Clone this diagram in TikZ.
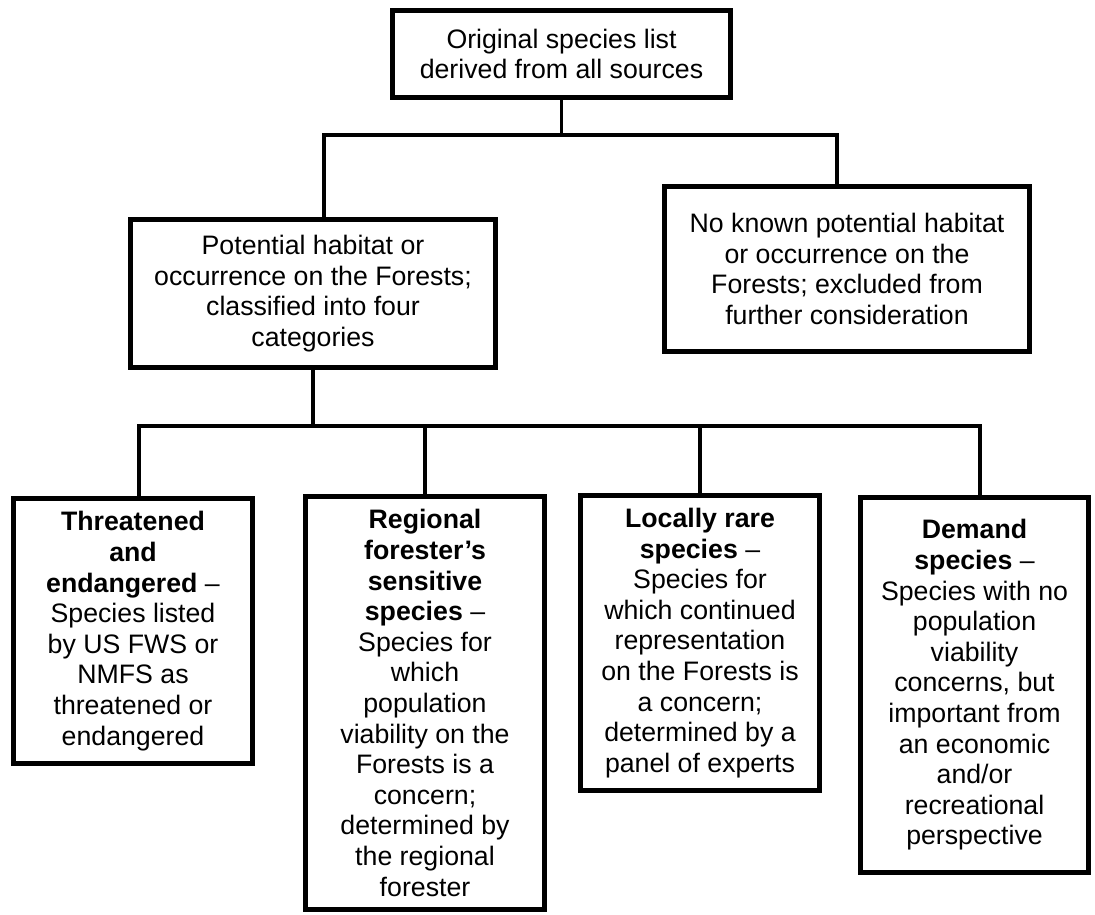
\documentclass[tikz,border=0pt]{standalone}
\usepackage{fontspec}
\setmainfont{Liberation Sans}
\usepackage{tikz}

\begin{document}
\begin{tikzpicture}[
    x=0.5pt, y=-0.5pt,
    box/.style={draw=black, line width=2.4pt, fill=white, align=center, inner sep=0pt, font=\fontsize{13.35}{15.3}\selectfont},
    conn/.style={draw=black, line width=1.8pt}
]
    \useasboundingbox (0,0) rectangle (1095,914);

    \node[box, minimum width=169.1pt, minimum height=43.6pt] (orig) at (561.5,54) {Original species list\\derived from all sources};
    \node[box, minimum width=182.6pt, minimum height=74.1pt] (habitat) at (313,293.5) {Potential habitat or\\occurrence on the Forests;\\classified into four\\categories};
    \node[box, minimum width=182.6pt, minimum height=82.6pt] (nohabitat) at (847,269) {No known potential habitat\\or occurrence on the\\Forests; excluded from\\further consideration};

    \node[box, minimum width=119.6pt, minimum height=132.6pt] (te) at (133,631) {\textbf{Threatened}\\\textbf{and}\\\textbf{endangered} \textendash\\Species listed\\by US FWS or\\NMFS as\\threatened or\\endangered};
    \node[box, minimum width=119.6pt, minimum height=206.6pt] (rfss) at (425,703) {\textbf{Regional}\\\textbf{forester's}\\\textbf{sensitive}\\\textbf{species} \textendash\\Species for\\which\\population\\viability on the\\Forests is a\\concern;\\determined by\\the regional\\forester};
    \node[box, minimum width=119.6pt, minimum height=147.6pt] (rare) at (700,643) {\textbf{Locally rare}\\\textbf{species} \textendash\\Species for\\which continued\\representation\\on the Forests is\\a concern;\\determined by a\\panel of experts};
    \node[box, minimum width=114.1pt, minimum height=187.6pt] (demand) at (974.5,685) {\textbf{Demand}\\\textbf{species} \textendash\\Species with no\\population\\viability\\concerns, but\\important from\\an economic\\and/or\\recreational\\perspective};

    \coordinate (dropL) at (324,135);
    \coordinate (dropR) at (837,135);
    \coordinate (busL) at (139,426);
    \coordinate (busR) at (980,426);

    \draw[conn] (orig.south) -- (orig.south |- dropL);
    \draw[conn] (dropL |- habitat.north) -- (dropL) -- (dropR) -- (dropR |- nohabitat.north);

    \draw[conn] (habitat.south) -- (habitat.south |- busL);
    \draw[conn] (busL |- te.north) -- (busL) -- (busR) -- (busR |- demand.north);
    \draw[conn] (rfss.north) -- (rfss.north |- busL);
    \draw[conn] (rare.north) -- (rare.north |- busL);
\end{tikzpicture}
\end{document}
